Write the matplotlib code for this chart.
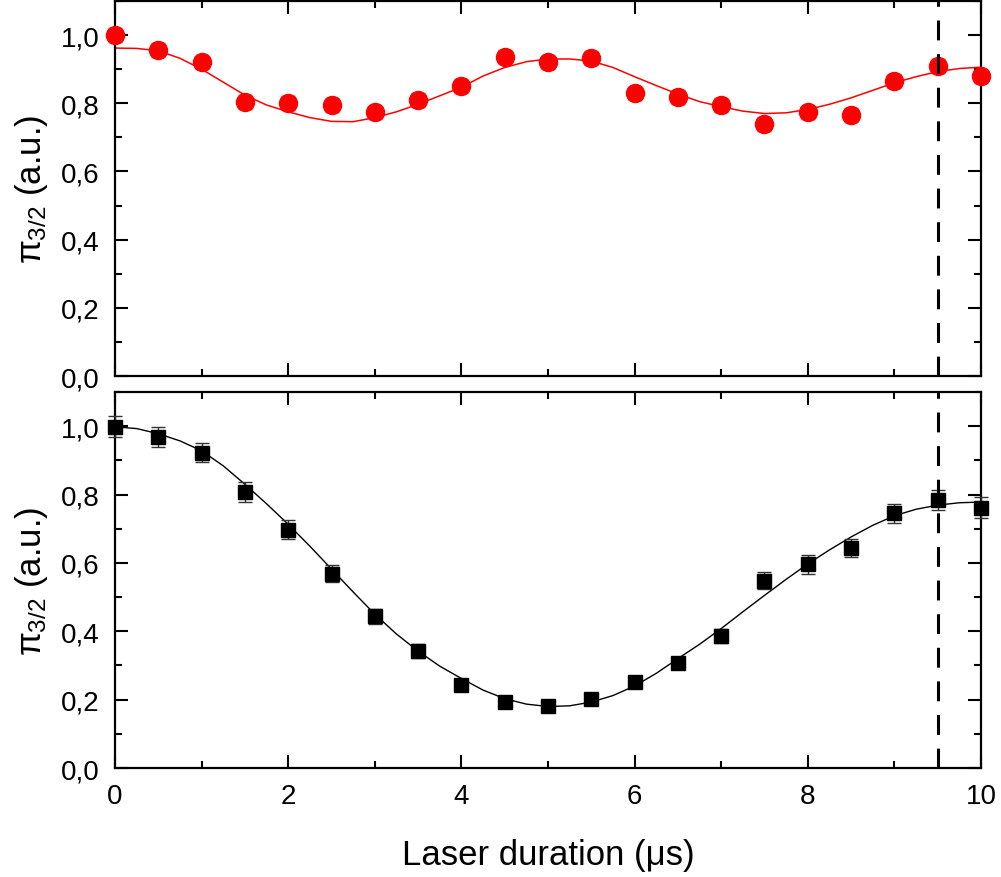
import matplotlib
matplotlib.use("Agg")
import matplotlib.pyplot as plt
from matplotlib.ticker import MultipleLocator, FuncFormatter

plt.rcParams['font.family'] = ['Liberation Sans', 'DejaVu Sans']
plt.rcParams['mathtext.fontset'] = 'custom'
plt.rcParams['mathtext.rm'] = 'Liberation Sans'
plt.rcParams['mathtext.it'] = 'Liberation Sans'
plt.rcParams['mathtext.bf'] = 'Liberation Sans:bold'

# ---- data ----
x_data = [0, 0.5, 1.0, 1.5, 2.0, 2.5, 3.0, 3.5, 4.0, 4.5, 5.0, 5.5, 6.0, 6.5,
          7.0, 7.5, 8.0, 8.5, 9.0, 9.5, 10.0]
top_y = [1.0, 0.957, 0.92, 0.803, 0.80, 0.795, 0.773, 0.809, 0.851, 0.937,
         0.92, 0.932, 0.829, 0.819, 0.795, 0.739, 0.773, 0.766, 0.866, 0.91, 0.879]
top_err = [0.02] * 21
bot_y = [0.999, 0.969, 0.923, 0.808, 0.697, 0.569, 0.444, 0.342, 0.243, 0.193,
         0.181, 0.202, 0.252, 0.307, 0.387, 0.548, 0.596, 0.643, 0.745, 0.785, 0.762]
bot_err = [0.03, 0.03, 0.029, 0.029, 0.028, 0.025, 0.022, 0.02, 0.018, 0.016,
           0.015, 0.015, 0.016, 0.018, 0.02, 0.024, 0.027, 0.027, 0.028, 0.029, 0.03]

x_fit = [0, 0.25, 0.5, 0.75, 1.0, 1.25, 1.5, 1.75, 2.0, 2.25, 2.5, 2.75, 3.0, 3.25,
         3.5, 3.75, 4.0, 4.25, 4.5, 4.75, 5.0, 5.25, 5.5, 5.75, 6.0, 6.25, 6.5, 6.75,
         7.0, 7.25, 7.5, 7.75, 8.0, 8.25, 8.5, 8.75, 9.0, 9.25, 9.5, 9.75, 10.0]
top_fit = [0.962, 0.961, 0.954, 0.932, 0.90, 0.862, 0.824, 0.795, 0.775, 0.758,
           0.747, 0.746, 0.758, 0.775, 0.797, 0.822, 0.847, 0.88, 0.905, 0.922,
           0.93, 0.93, 0.924, 0.905, 0.878, 0.852, 0.827, 0.805, 0.79, 0.777,
           0.77, 0.772, 0.782, 0.797, 0.816, 0.838, 0.86, 0.878, 0.893, 0.902, 0.906]
bot_fit = [0.998, 0.993, 0.978, 0.957, 0.928, 0.884, 0.83, 0.773, 0.713, 0.649,
           0.582, 0.515, 0.45, 0.392, 0.342, 0.298, 0.262, 0.228, 0.203, 0.187,
           0.18, 0.182, 0.193, 0.212, 0.24, 0.277, 0.32, 0.362, 0.408, 0.457,
           0.505, 0.552, 0.597, 0.638, 0.676, 0.71, 0.738, 0.757, 0.769, 0.776, 0.778]

vline_x = 9.5
xticks = [0, 2, 4, 6, 8, 10]
yticks = [0.0, 0.2, 0.4, 0.6, 0.8, 1.0]

fig = plt.figure(figsize=(10.01, 8.78), dpi=100)
ax_top = fig.add_axes([0.1149, 0.5706, 0.8651, 0.4271])
ax_bot = fig.add_axes([0.1149, 0.1241, 0.8651, 0.4283])

comma = FuncFormatter(lambda v, p: f"{v:.1f}".replace('.', ','))

for ax in (ax_top, ax_bot):
    ax.set_xlim(0, 10)
    ax.set_ylim(0, 1.1)
    ax.set_xticks(xticks)
    ax.set_yticks(yticks)
    ax.xaxis.set_minor_locator(MultipleLocator(1))
    ax.yaxis.set_minor_locator(MultipleLocator(0.1))
    ax.yaxis.set_major_formatter(comma)
    ax.tick_params(which='both', direction='in', top=True, right=True, width=1.5)
    ax.tick_params(which='major', length=9.5, labelsize=20, pad=11)
    ax.tick_params(which='minor', length=5)
    for s in ax.spines.values():
        s.set_linewidth(1.6)
    ax.axvline(vline_x, color='black', lw=2.2, dashes=(6.5, 4.5), zorder=5)
    ax.set_ylabel(r'$\pi_{3/2}$ (a.u.)', fontsize=25, labelpad=8)

ax_top.tick_params(labelbottom=False)

ax_top.plot(x_fit, top_fit, color='red', lw=1.1, zorder=2)
ax_top.errorbar(x_data, top_y, yerr=top_err, fmt='o', color='red', ms=13,
                ecolor='#ff5050', elinewidth=1, capsize=5, capthick=1, zorder=3,
                clip_on=False)

ax_bot.plot(x_fit, bot_fit, color='black', lw=1.0, zorder=2)
ax_bot.errorbar(x_data, bot_y, yerr=bot_err, fmt='s', color='black', ms=10.5,
                ecolor='#333333', elinewidth=1, capsize=5, capthick=1, zorder=3,
                clip_on=False)

ax_bot.set_xlabel('Laser duration (μs)', fontsize=25, labelpad=21)

fig.savefig('out.png', dpi=100)
